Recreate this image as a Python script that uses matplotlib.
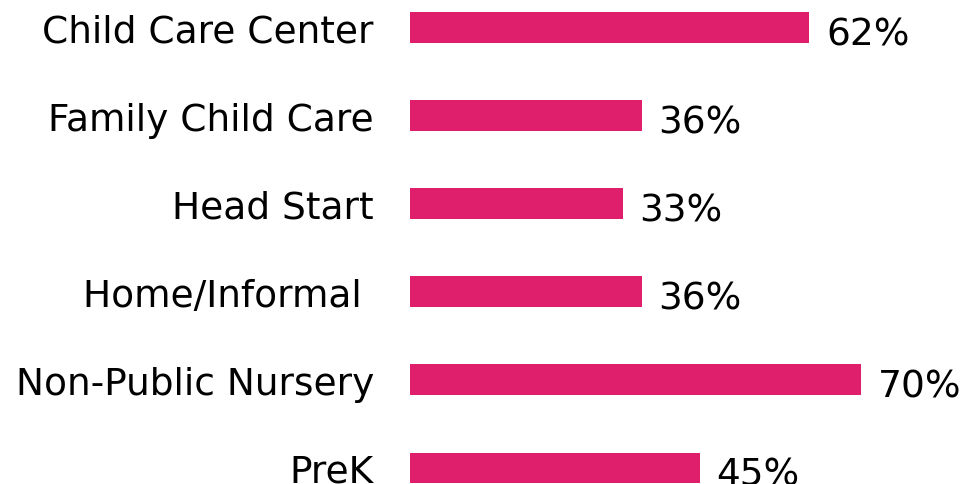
import matplotlib
matplotlib.use('Agg')
import matplotlib.pyplot as plt

categories = ['Child Care Center', 'Family Child Care', 'Head Start', 'Home/Informal ', 'Non-Public Nursery', 'PreK']
values = [62, 36, 33, 36, 70, 45]

bar_color = '#E01F6C'

fig = plt.figure(figsize=(9.79, 4.85), dpi=100)
ax = fig.add_axes([410 / 979, 0, 569 / 979, 1])

ypos = list(range(len(categories)))
ax.barh(ypos, values, height=0.35, color=bar_color)

# value labels sit a little below the bar centre
for y, v in zip(ypos, values):
    ax.annotate(f'{v}%', xy=(v, y), xytext=(12, -5), textcoords='offset points',
                ha='left', va='center', fontsize=27, color='black')

ax.set_yticks(ypos)
ax.set_yticklabels(categories, fontsize=27)
ax.tick_params(axis='y', length=0, pad=26)
ax.set_xticks([])
ax.set_xlim(0, 569 / 6.44)
ax.set_ylim(5 + 16 / 88.1, -28.5 / 88.1)
for s in ax.spines.values():
    s.set_visible(False)

fig.savefig('out.png', dpi=100)
